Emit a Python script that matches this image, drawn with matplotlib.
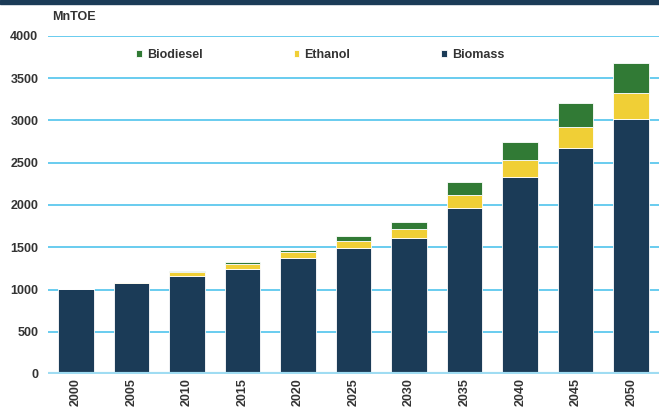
import matplotlib
matplotlib.use('Agg')
import matplotlib.pyplot as plt
from matplotlib.patches import Rectangle

plt.rcParams['font.family'] = ['Liberation Sans', 'DejaVu Sans']

years = ['2000', '2005', '2010', '2015', '2020', '2025', '2030', '2035', '2040', '2045', '2050']
biomass = [1005, 1075, 1160, 1245, 1370, 1490, 1610, 1970, 2330, 2675, 3020]
ethanol = [0, 15, 50, 60, 68, 87, 108, 148, 197, 245, 300]
biodiesel = [0, 3, 8, 20, 28, 55, 80, 150, 213, 290, 365]

c_biomass = '#1b3b57'
c_ethanol = '#f0cf36'
c_biodiesel = '#317a35'
c_grid = '#4fc4ec'
c_text = '#333333'

fig = plt.figure(figsize=(6.59, 4.08), dpi=100)
ax = fig.add_axes([48/659, 1 - 374/408, 1 - 48/659, 338/408])

# dark band at the top
fig.patches.append(Rectangle((0, 1 - 4/408), 1, 4/408, transform=fig.transFigure,
                             color=c_biomass, zorder=0))

x = range(len(years))
w = 0.64
bot2 = [b + e for b, e in zip(biomass, ethanol)]
b1 = ax.bar(x, biomass, w, color=c_biomass, edgecolor='white', linewidth=0.6, zorder=3, label='Biomass')
b2 = ax.bar(x, ethanol, w, bottom=biomass, color=c_ethanol, edgecolor='white', linewidth=0.6, zorder=3, label='Ethanol')
b3 = ax.bar(x, biodiesel, w, bottom=bot2, color=c_biodiesel, edgecolor='white', linewidth=0.6, zorder=3, label='Biodiesel')

ax.set_xlim(-0.5, len(years) - 0.5)
ax.set_ylim(0, 4000)
yticks = list(range(0, 4001, 500))
ax.set_yticks(yticks)
for t in yticks[1:]:
    ax.axhline(t, color=c_grid, lw=1.2, zorder=1)
ax.axhline(0, color='#9fdcf2', lw=3, zorder=4)

ax.set_xticks(list(x))
ax.set_xticklabels(years, rotation=90, fontsize=9, fontweight='bold', color=c_text)
ax.tick_params(axis='y', labelsize=9, labelcolor=c_text, length=0, pad=7)
ax.tick_params(axis='x', length=0, pad=3)
for lab in ax.get_yticklabels():
    lab.set_fontweight('bold')
for s in ax.spines.values():
    s.set_visible(False)

fig.text(52/659, 1 - 17/408, 'MnTOE', fontsize=9, fontweight='bold', color=c_text, va='center')

leg = ax.legend(handles=[b3, b2, b1], loc='center left', bbox_to_anchor=(136/659, 1 - 55/408),
                bbox_transform=fig.transFigure, ncol=3, frameon=False, fontsize=9,
                handlelength=0.45, handleheight=0.45, handletextpad=0.4,
                columnspacing=7.3, borderpad=0, borderaxespad=0)
for t in leg.get_texts():
    t.set_fontweight('bold')
    t.set_color(c_text)

fig.savefig('out.png', dpi=100)
